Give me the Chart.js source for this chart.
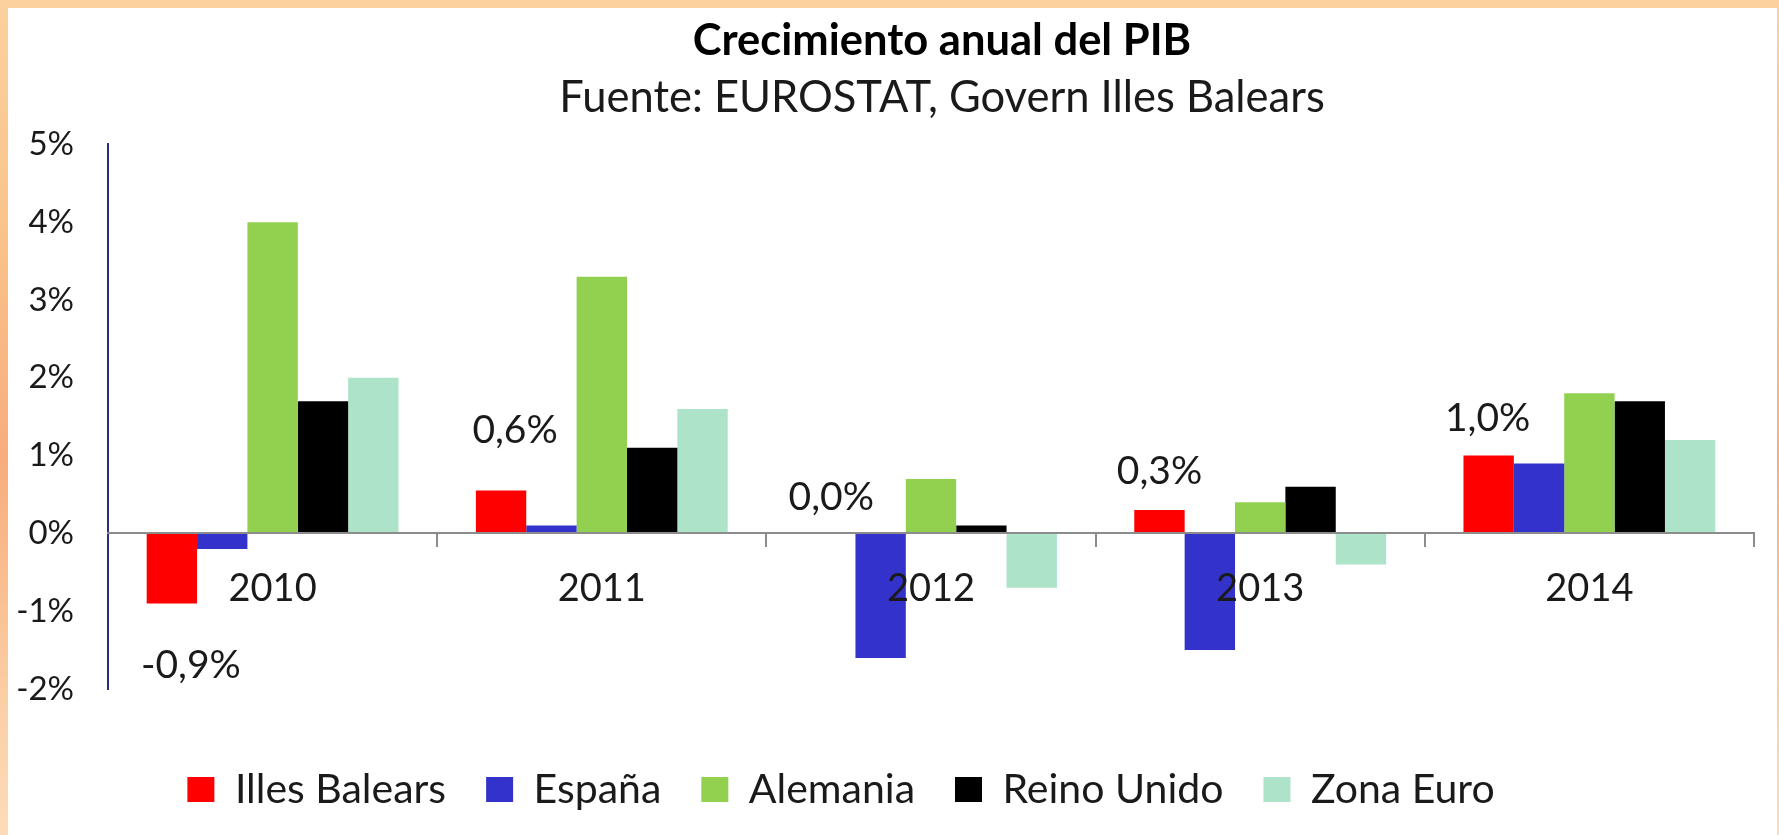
<!DOCTYPE html>
<html>
<head>
<meta charset="utf-8">
<script src="https://cdn.jsdelivr.net/npm/chart.js@4/dist/chart.umd.min.js"></script>
<style>
  html, body { margin: 0; padding: 0; }
  body {
    width: 1779px; height: 835px; position: relative; overflow: hidden;
    background: linear-gradient(to bottom, #fbd19f 0%, #fac58c 25%, #f8ad7c 55%, #fbd0a6 85%, #fcdcb8 100%);
  }
  #frame {
    position: absolute; left: 8px; top: 8px; right: 2px; bottom: 0;
    background: #fff;
  }
  #chart { position: absolute; left: 0; top: 0; }
</style>
</head>
<body>
<div id="frame"></div>
<canvas id="chart" width="1779" height="835"></canvas>
<script>
const years = ['2010', '2011', '2012', '2013', '2014'];
const illesBalears = [-0.9, 0.55, 0.0, 0.3, 1.0];
const espana = [-0.2, 0.1, -1.6, -1.5, 0.9];
const alemania = [4.0, 3.3, 0.7, 0.4, 1.8];
const reinoUnido = [1.7, 1.1, 0.1, 0.6, 1.7];
const zonaEuro = [2.0, 1.6, -0.7, -0.4, 1.2];
const yTicks = [-2, -1, 0, 1, 2, 3, 4, 5];

const titleText = 'Crecimiento anual del PIB';
const subtitleText = 'Fuente: EUROSTAT, Govern Illes Balears';

const FONT = 'Lato';
Chart.defaults.font.family = FONT;
Chart.defaults.color = '#1a1a1a';

const fmt = v => v.toFixed(1).replace('.', ',') + '%';

// labels only on the Illes Balears bars, nudged like the original
const labelNudge = [[19, 62], [14, 60], [1, 36], [0, 39], [-1, 37]];
const balearLabels = {
    id: 'balearLabels',
    afterDatasetsDraw(chart) {
        const ctx = chart.ctx;
        const meta = chart.getDatasetMeta(0);
        ctx.save();
        ctx.font = '39px ' + FONT;
        ctx.fillStyle = '#1a1a1a';
        ctx.textAlign = 'center';
        ctx.textBaseline = 'middle';
        meta.data.forEach((bar, i) => {
            const v = illesBalears[i];
            const [dx, dy] = labelNudge[i];
            const y = v < 0 ? bar.y + dy : bar.y - dy;
            ctx.fillText(fmt(v), bar.x + dx, y);
        });
        ctx.restore();
    }
};

// in the original the titles sit right of centre, the legend lower and left
const boxShift = {
    id: 'boxShift',
    afterLayout(chart) {
        chart.boxes.forEach(b => {
            const t = b.options && b.options.text;
            if (t === titleText || t === subtitleText) {
                b.left += 61;
                b.right += 61;
            }
        });
        const lg = chart.legend;
        lg.left -= 40;
        lg.right -= 40;
        lg.top += 40;
        lg.bottom += 40;
        if (lg.adjustHitBoxes) lg.adjustHitBoxes();
    }
};

const mk = (label, data, color) => ({
    label, data, backgroundColor: color, borderWidth: 0,
    categoryPercentage: 0.765, barPercentage: 1.0
});

new Chart(document.getElementById('chart'), {
    type: 'bar',
    data: {
        labels: years,
        datasets: [
            mk('Illes Balears', illesBalears, '#ff0000'),
            mk('España', espana, '#3333cc'),
            mk('Alemania', alemania, '#92d050'),
            mk('Reino Unido', reinoUnido, '#000000'),
            mk('Zona Euro', zonaEuro, '#ace3c9')
        ]
    },
    options: {
        responsive: false,
        animation: false,
        layout: { padding: { left: 8, right: 25, top: 0, bottom: 55 } },
        scales: {
            x: {
                position: { y: 0 },
                grid: { display: true, drawOnChartArea: false, drawTicks: true, tickLength: 13, color: '#8c8c8c', lineWidth: 2 },
                border: { display: true, color: '#8c8c8c', width: 2, z: 1 },
                ticks: { font: { size: 38 }, color: '#1a1a1a', padding: 20, z: 1 }
            },
            y: {
                min: -2, max: 5,
                afterFit(scale) { scale.width = 100; },
                afterBuildTicks(scale) { scale.ticks = yTicks.map(v => ({ value: v })); },
                grid: { display: false, drawTicks: false },
                border: { display: true, color: '#2b2b80', width: 2 },
                ticks: { font: { size: 33 }, color: '#1a1a1a', padding: 34, callback: v => v + '%' }
            }
        },
        plugins: {
            title: {
                display: true, text: titleText,
                font: { size: 43.5, weight: 'bold' }, color: '#000',
                padding: { top: 15, bottom: 5 }
            },
            subtitle: {
                display: true, text: subtitleText,
                font: { size: 43.5 }, color: '#1a1a1a',
                padding: { bottom: 20 }
            },
            legend: {
                position: 'bottom',
                labels: { font: { size: 41 }, boxWidth: 27, boxHeight: 25, padding: 40, color: '#1a1a1a' }
            },
            tooltip: { enabled: false }
        }
    },
    plugins: [balearLabels, boxShift]
});
</script>
</body>
</html>
